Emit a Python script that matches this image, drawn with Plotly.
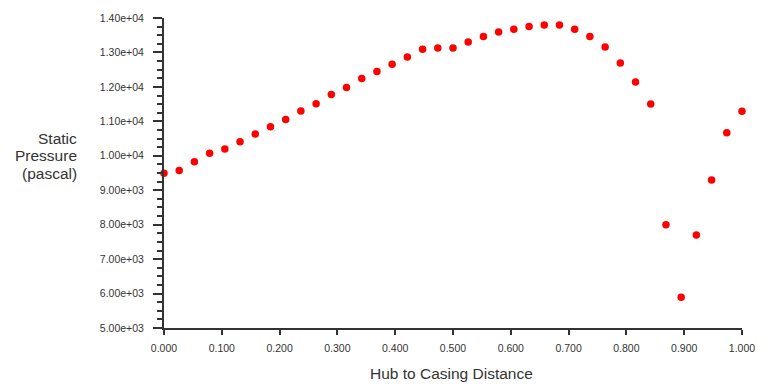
import plotly.graph_objects as go

# Data
n_points = 39
distance = [i / (n_points - 1) for i in range(n_points)]
pressure = [9490, 9570, 9830, 10070, 10200, 10410, 10630, 10840, 11050, 11300,
            11510, 11780, 11980, 12240, 12450, 12660, 12870, 13090, 13130, 13130,
            13300, 13460, 13590, 13670, 13750, 13800, 13800, 13670, 13460, 13160,
            12690, 12140, 11500, 8000, 5890, 7700, 9300, 10670, 11290]

x_ticks = [0.0, 0.1, 0.2, 0.3, 0.4, 0.5, 0.6, 0.7, 0.8, 0.9, 1.0]
y_ticks = [5000, 6000, 7000, 8000, 9000, 10000, 11000, 12000, 13000, 14000]


def sci(v):
    m, e = f"{v:.2e}".split("e")
    sign = e[0]
    exp = int(e[1:])
    return f"{m}e{sign}{exp:02d}"


y_ticktext = [sci(v) for v in y_ticks]
x_ticktext = [f"{v:.3f}" for v in x_ticks]

axis_color = "#333333"
text_color = "#333333"
font_family = "Liberation Sans, Arial, sans-serif"

fig = go.Figure()
fig.add_trace(go.Scatter(
    x=distance, y=pressure, mode="markers",
    marker=dict(color="#ff0000", size=7.5, line=dict(width=0)),
    cliponaxis=False, showlegend=False,
))

fig.update_layout(
    width=767, height=387,
    margin=dict(l=164, r=14, t=13, b=59),
    paper_bgcolor="white", plot_bgcolor="white",
    font=dict(family=font_family, color=text_color),
    xaxis=dict(
        range=[0, 1], showgrid=False, zeroline=False,
        showline=True, linecolor=axis_color, linewidth=2,
        ticks="outside", ticklen=5, tickwidth=2, tickcolor=axis_color,
        tickvals=x_ticks, ticktext=x_ticktext,
        tickfont=dict(size=10.5, color=text_color),
        ticklabelstandoff=4,
    ),
    yaxis=dict(
        range=[5000, 14000], showgrid=False, zeroline=False,
        showline=True, linecolor=axis_color, linewidth=2,
        ticks="outside", ticklen=9, tickwidth=2, tickcolor=axis_color,
        tickvals=y_ticks, ticktext=y_ticktext,
        tickfont=dict(size=10.5, color=text_color),
        ticklabelstandoff=7,
        minor=dict(dtick=250, ticks="outside", ticklen=5, tickwidth=1.5,
                   tickcolor=axis_color, showgrid=False),
    ),
)

title_font = dict(family=font_family, size=15.5, color=text_color)
for txt, yp in [("Static", 0.612), ("Pressure", 0.555), ("(pascal)", 0.499)]:
    fig.add_annotation(text=txt, xref="paper", yref="paper", x=-0.1477, y=yp,
                       xanchor="right", yanchor="middle", showarrow=False,
                       font=title_font)

fig.add_annotation(text="Hub to Casing Distance", xref="paper", yref="paper",
                   x=0.4975, y=-0.148, xanchor="center", yanchor="middle",
                   showarrow=False, font=title_font)

fig.write_html(
    "out.html",
    config={"displayModeBar": False},
    post_script="document.body.style.margin='0';document.body.style.padding='0';"
                "document.documentElement.style.overflow='hidden';",
)
